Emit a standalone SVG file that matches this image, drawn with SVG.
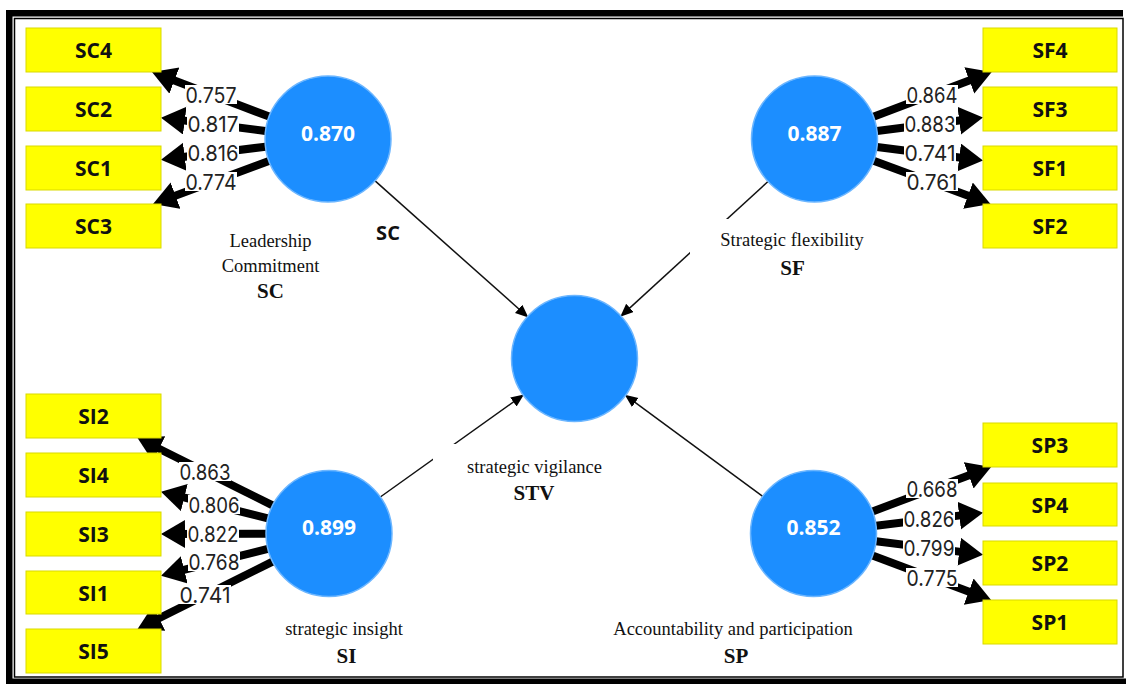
<svg xmlns="http://www.w3.org/2000/svg" width="1126" height="684" viewBox="0 0 1126 684">
  <style>
    .ind rect { fill: #FFFF00; stroke: #D9D900; stroke-width: 1; }
    .ind text { font-family: "Open Sans", "Noto Sans", sans-serif; font-weight: 700; font-size: 21px; fill: #111; text-anchor: middle; }
    .lv circle { fill: #1C8EFF; stroke: #6CB6FF; stroke-width: 1.5; }
    .lv text.val { font-family: "Open Sans", "Noto Sans", sans-serif; font-weight: 700; font-size: 21px; fill: #FFFFFF; text-anchor: middle; }
    .load { stroke: #000; stroke-width: 8; fill: none; marker-end: url(#bigHead); }
    .path { stroke: #111; stroke-width: 1.5; fill: none; marker-end: url(#smallHead); }
    .lab rect { fill: #FFFFFF; }
    .lab text { font-family: Inter, "Open Sans", sans-serif; font-size: 22px; fill: #222; text-anchor: middle; }
    .cap { font-family: "Liberation Serif", "Times New Roman", serif; font-size: 18.5px; fill: #111; text-anchor: middle; }
    .capb { font-family: "Liberation Serif", "Times New Roman", serif; font-size: 21px; font-weight: 700; fill: #111; text-anchor: middle; }
    .sansb { font-family: "Open Sans", "Noto Sans", sans-serif; font-size: 20px; font-weight: 700; fill: #111; text-anchor: middle; }
  </style>
  <defs>
    <marker id="bigHead" markerUnits="userSpaceOnUse" markerWidth="26" markerHeight="30" refX="14" refY="14" orient="auto">
      <path d="M0,0 L24,14 L0,28 Z" fill="#000"/>
    </marker>
    <marker id="smallHead" markerUnits="userSpaceOnUse" markerWidth="14" markerHeight="12" refX="7" refY="5.5" orient="auto">
      <path d="M0,0 L13,5.5 L0,11 Z" fill="#000"/>
    </marker>
  </defs>

  <!-- page frame -->
  <rect x="0" y="0" width="1126" height="684" fill="#FFFFFF"/>
  <g id="frame" fill="#000">
    <rect x="6" y="10" width="1117" height="6.5"/>
    <rect x="6" y="10" width="6.5" height="674"/>
    <rect x="6" y="678.5" width="1120" height="5.5"/>
    <rect x="14.5" y="18.5" width="1108.5" height="658.5" fill="none" stroke="#000" stroke-width="1.5"/>
  </g>

  <!-- connectors: outer loadings and inner paths -->
  <g id="connectors">
    <!-- SC loadings -->
    <line class="load" x1="269.1" y1="116.6" x2="161.3" y2="75.6"/>
    <line class="load" x1="265.5" y1="131.0" x2="170.9" y2="118.9"/>
    <line class="load" x1="265.5" y1="146.7" x2="170.9" y2="158.5"/>
    <line class="load" x1="268.9" y1="160.9" x2="162.4" y2="200.5"/>
    <!-- SF loadings -->
    <line class="load" x1="873.4" y1="116.7" x2="982.4" y2="75.5"/>
    <line class="load" x1="877.0" y1="131.0" x2="973.1" y2="118.8"/>
    <line class="load" x1="877.0" y1="147.0" x2="973.1" y2="159.2"/>
    <line class="load" x1="873.6" y1="160.8" x2="981.1" y2="200.5"/>
    <!-- SI loadings -->
    <line class="load" x1="272.6" y1="505.4" x2="146.5" y2="442.5"/>
    <line class="load" x1="267.9" y1="518.3" x2="170.7" y2="494.2"/>
    <line class="load" x1="266.0" y1="533.7" x2="171.0" y2="534.0"/>
    <line class="load" x1="267.9" y1="548.8" x2="170.7" y2="573.2"/>
    <line class="load" x1="272.6" y1="561.6" x2="146.5" y2="624.5"/>
    <!-- SP loadings -->
    <line class="load" x1="872.5" y1="511.4" x2="981.8" y2="470.5"/>
    <line class="load" x1="876.0" y1="525.8" x2="973.1" y2="513.9"/>
    <line class="load" x1="876.0" y1="541.3" x2="973.1" y2="553.4"/>
    <line class="load" x1="872.5" y1="555.6" x2="981.8" y2="596.5"/>

    <!-- structural paths into STV -->
    <line class="path" x1="375.1" y1="180.9" x2="523.9" y2="313.5"/>
    <line class="path" x1="768.0" y1="181.5" x2="624.7" y2="312.6"/>
    <line class="path" x1="380.3" y1="497.0" x2="519.1" y2="397.9"/>
    <line class="path" x1="762.7" y1="496.3" x2="629.6" y2="398.3"/>

    <!-- loading values -->
    <g class="lab">
      <rect x="185" y="85" width="52" height="19"/><text x="211" y="102.5" textLength="51" lengthAdjust="spacingAndGlyphs">0.757</text>
      <rect x="187" y="114" width="52" height="19"/><text x="213" y="131.5" textLength="51" lengthAdjust="spacingAndGlyphs">0.817</text>
      <rect x="187" y="143" width="52" height="19"/><text x="213" y="160.5" textLength="51" lengthAdjust="spacingAndGlyphs">0.816</text>
      <rect x="185" y="172" width="52" height="19"/><text x="211" y="189.5" textLength="51" lengthAdjust="spacingAndGlyphs">0.774</text>

      <rect x="906" y="85" width="52" height="19"/><text x="932" y="102.5" textLength="51" lengthAdjust="spacingAndGlyphs">0.864</text>
      <rect x="904" y="114" width="52" height="19"/><text x="930" y="131.5" textLength="51" lengthAdjust="spacingAndGlyphs">0.883</text>
      <rect x="904" y="143" width="52" height="19"/><text x="930" y="160.5" textLength="51" lengthAdjust="spacingAndGlyphs">0.741</text>
      <rect x="906" y="172" width="52" height="19"/><text x="932" y="189.5" textLength="51" lengthAdjust="spacingAndGlyphs">0.761</text>

      <rect x="179" y="462" width="52" height="19"/><text x="205" y="479.5" textLength="51" lengthAdjust="spacingAndGlyphs">0.863</text>
      <rect x="188" y="495" width="52" height="19"/><text x="214" y="512.5" textLength="51" lengthAdjust="spacingAndGlyphs">0.806</text>
      <rect x="187" y="524" width="52" height="19"/><text x="213" y="541.5" textLength="51" lengthAdjust="spacingAndGlyphs">0.822</text>
      <rect x="188" y="552" width="52" height="19"/><text x="214" y="569.5" textLength="51" lengthAdjust="spacingAndGlyphs">0.768</text>
      <rect x="179" y="585" width="52" height="19"/><text x="205" y="602.5" textLength="51" lengthAdjust="spacingAndGlyphs">0.741</text>

      <rect x="906" y="479" width="52" height="19"/><text x="932" y="496.5" textLength="51" lengthAdjust="spacingAndGlyphs">0.668</text>
      <rect x="903" y="509" width="52" height="19"/><text x="929" y="526.5" textLength="51" lengthAdjust="spacingAndGlyphs">0.826</text>
      <rect x="903" y="538" width="52" height="19"/><text x="929" y="555.5" textLength="51" lengthAdjust="spacingAndGlyphs">0.799</text>
      <rect x="906" y="568" width="52" height="19"/><text x="932" y="585.5" textLength="51" lengthAdjust="spacingAndGlyphs">0.775</text>
    </g>
  </g>

  <!-- indicators -->
  <g id="ind-SC4" class="ind"><rect x="26" y="28" width="135" height="44"/><text x="93.5" y="58">SC4</text></g>
  <g id="ind-SC2" class="ind"><rect x="26" y="87" width="135" height="44"/><text x="93.5" y="117">SC2</text></g>
  <g id="ind-SC1" class="ind"><rect x="26" y="146" width="135" height="44"/><text x="93.5" y="176">SC1</text></g>
  <g id="ind-SC3" class="ind"><rect x="26" y="204" width="135" height="44"/><text x="93.5" y="234">SC3</text></g>

  <g id="ind-SF4" class="ind"><rect x="983" y="28" width="134" height="44"/><text x="1050" y="58">SF4</text></g>
  <g id="ind-SF3" class="ind"><rect x="983" y="87" width="134" height="44"/><text x="1050" y="117">SF3</text></g>
  <g id="ind-SF1" class="ind"><rect x="983" y="146" width="134" height="44"/><text x="1050" y="176">SF1</text></g>
  <g id="ind-SF2" class="ind"><rect x="983" y="204" width="134" height="44"/><text x="1050" y="234">SF2</text></g>

  <g id="ind-SI2" class="ind"><rect x="26" y="394" width="135" height="44"/><text x="93.5" y="424">SI2</text></g>
  <g id="ind-SI4" class="ind"><rect x="26" y="453" width="135" height="44"/><text x="93.5" y="483">SI4</text></g>
  <g id="ind-SI3" class="ind"><rect x="26" y="512" width="135" height="44"/><text x="93.5" y="542">SI3</text></g>
  <g id="ind-SI1" class="ind"><rect x="26" y="571" width="135" height="43"/><text x="93.5" y="600.5">SI1</text></g>
  <g id="ind-SI5" class="ind"><rect x="26" y="629" width="135" height="44"/><text x="93.5" y="659">SI5</text></g>

  <g id="ind-SP3" class="ind"><rect x="983" y="423" width="134" height="44"/><text x="1050" y="453">SP3</text></g>
  <g id="ind-SP4" class="ind"><rect x="983" y="483" width="134" height="43"/><text x="1050" y="512.5">SP4</text></g>
  <g id="ind-SP2" class="ind"><rect x="983" y="541" width="134" height="44"/><text x="1050" y="571">SP2</text></g>
  <g id="ind-SP1" class="ind"><rect x="983" y="600" width="134" height="44"/><text x="1050" y="630">SP1</text></g>

  <!-- latent variables -->
  <g id="lv-SC" class="lv">
    <circle cx="328" cy="139" r="63"/>
    <text class="val" x="328" y="140.5">0.870</text>
    <text class="sansb" x="388" y="240">SC</text>
  </g>
  <g id="lv-SF" class="lv">
    <circle cx="814.5" cy="139" r="63"/>
    <text class="val" x="814.5" y="140.5">0.887</text>
  </g>
  <g id="lv-SI" class="lv">
    <circle cx="329" cy="533.5" r="63"/>
    <text class="val" x="329" y="535">0.899</text>
  </g>
  <g id="lv-SP" class="lv">
    <circle cx="813.5" cy="533.5" r="63"/>
    <text class="val" x="813.5" y="535">0.852</text>
  </g>
  <g id="lv-STV" class="lv">
    <circle cx="574.5" cy="358.5" r="63"/>
  </g>

  <!-- construct captions -->
  <g id="cap-SC">
    <text class="cap" x="270.5" y="247">Leadership</text>
    <text class="cap" x="270.5" y="272">Commitment</text>
    <text class="capb" x="270.5" y="298">SC</text>
  </g>
  <g id="cap-SF">
    <rect x="690" y="219" width="180" height="64" fill="#FFFFFF"/>
    <text class="cap" x="792" y="246">Strategic flexibility</text>
    <text class="capb" x="792.5" y="275">SF</text>
  </g>
  <g id="cap-SI">
    <text class="cap" x="344" y="635">strategic insight</text>
    <text class="capb" x="346.5" y="663">SI</text>
  </g>
  <g id="cap-SP">
    <text class="cap" x="733" y="635">Accountability and participation</text>
    <text class="capb" x="736" y="663">SP</text>
  </g>
  <g id="cap-STV">
    <rect x="433" y="444" width="240" height="66" fill="#FFFFFF"/>
    <text class="cap" x="534.5" y="473">strategic vigilance</text>
    <text class="capb" x="534" y="500">STV</text>
  </g>
</svg>
